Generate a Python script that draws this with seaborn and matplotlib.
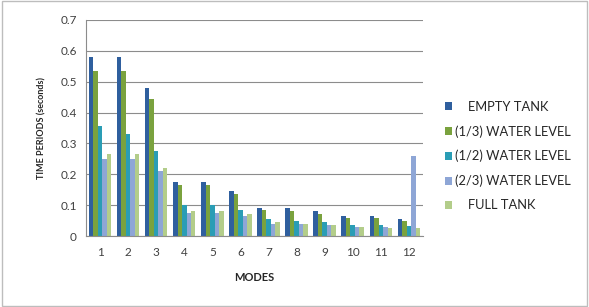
import pandas as pd
import matplotlib
matplotlib.use("Agg")
import matplotlib.pyplot as plt
import seaborn as sns

# values
modes = [str(m) for m in range(1, 13)]
series = ["EMPTY TANK", "(1/3) WATER LEVEL", "(1/2) WATER LEVEL",
          "(2/3) WATER LEVEL", "FULL TANK"]
empty_tank = [0.58, 0.58, 0.48, 0.175, 0.175, 0.145, 0.09, 0.09, 0.08, 0.065, 0.065, 0.055]
third_level = [0.535, 0.535, 0.445, 0.165, 0.165, 0.135, 0.085, 0.08, 0.07, 0.06, 0.06, 0.05]
half_level = [0.355, 0.33, 0.275, 0.10, 0.10, 0.085, 0.055, 0.05, 0.045, 0.035, 0.035, 0.032]
two_third_level = [0.25, 0.25, 0.21, 0.075, 0.075, 0.065, 0.04, 0.04, 0.035, 0.03, 0.03, 0.258]
full_tank = [0.265, 0.265, 0.22, 0.08, 0.08, 0.07, 0.045, 0.04, 0.035, 0.03, 0.025, 0.025]

colors = ["#2f5f9e", "#7aa23e", "#2a9db5", "#8ea6d6", "#b3cd8a"]

rows = []
for name, vals in zip(series, [empty_tank, third_level, half_level, two_third_level, full_tank]):
    for m, v in zip(modes, vals):
        rows.append({"mode": m, "level": name, "value": v})
df = pd.DataFrame(rows)

sns.set_style("white")
plt.rcParams["font.family"] = ["Lato", "DejaVu Sans"]

fig = plt.figure(figsize=(5.89, 3.07), dpi=100)
ax = fig.add_axes([0.146, 0.231, 0.572, 0.704])

sns.barplot(data=df, x="mode", y="value", hue="level", palette=colors,
            width=0.8, ax=ax, saturation=1, edgecolor="none", legend=True)

ax.set_ylim(0, 0.7)
ax.set_yticks([0, 0.1, 0.2, 0.3, 0.4, 0.5, 0.6, 0.7])
ax.set_yticklabels(["0", "0.1", "0.2", "0.3", "0.4", "0.5", "0.6", "0.7"])
ax.yaxis.grid(True, color="#8c8c8c", linewidth=0.8)
ax.set_axisbelow(True)
for s in ["top", "right"]:
    ax.spines[s].set_visible(False)
for s in ["left", "bottom"]:
    ax.spines[s].set_color("#8c8c8c")
    ax.spines[s].set_linewidth(0.8)
ax.tick_params(axis="both", labelsize=8.5, colors="#404040", length=3, width=0.6)
ax.tick_params(axis="x", length=0, pad=8)

ax.set_xlabel("MODES", fontsize=8, fontweight="bold", labelpad=10)
ax.set_ylabel("TIME PERIODS (seconds)", fontsize=6.5, fontweight="bold", labelpad=10)

handles, labels = ax.get_legend_handles_labels()
labels = ["    EMPTY TANK" if l == "EMPTY TANK" else ("    FULL TANK" if l == "FULL TANK" else l) for l in labels]
ax.legend(handles, labels, loc="center left", bbox_to_anchor=(1.03, 0.37), frameon=False,
          fontsize=9.3, handlelength=0.55, handleheight=0.55, handletextpad=0.25,
          labelspacing=0.95)

fig.patches.append(plt.Rectangle((0.003, 0.003), 0.994, 0.994, transform=fig.transFigure,
                                 fill=False, edgecolor="#bdbdbd", linewidth=1))

fig.savefig("out.png", dpi=100)
